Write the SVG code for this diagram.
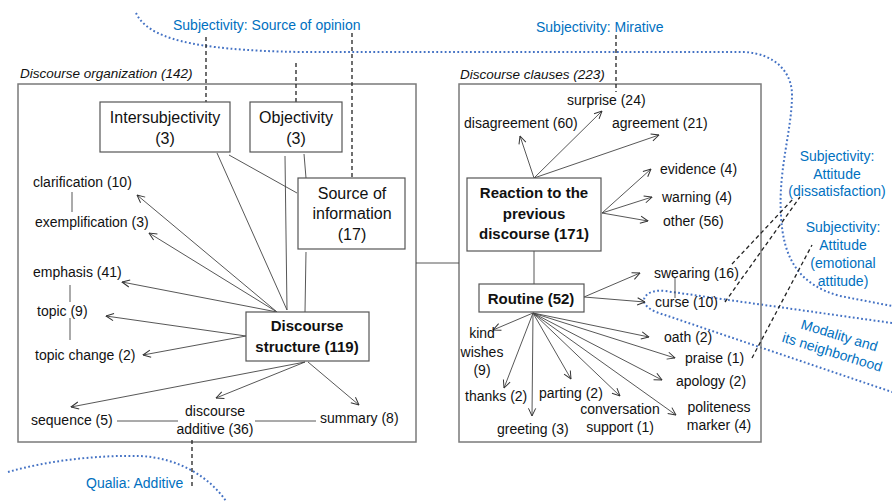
<svg xmlns="http://www.w3.org/2000/svg" width="892" height="501" viewBox="0 0 892 501">
<defs>
<marker id="arr" viewBox="0 0 10 10" refX="9.5" refY="5" markerWidth="9" markerHeight="9" markerUnits="userSpaceOnUse" orient="auto"><path d="M1,1 L9.5,5 L1,9" fill="none" stroke="#333" stroke-width="1.1"/></marker>
<style>
text{font-family:"Liberation Sans",Arial,sans-serif;fill:#111}
.s{font-size:14px}
.b{font-size:16px}
.bb{font-size:15px;font-weight:bold}
.it{font-size:13.5px;font-style:italic}
.bl{font-size:14px;fill:#0070C0}
.m{text-anchor:middle}
.cont{fill:none;stroke:#7a7a7a;stroke-width:1.5}
.box{fill:#fff;stroke:#555;stroke-width:1.2}
.ln{fill:none;stroke:#444;stroke-width:0.9}
.ar{fill:none;stroke:#444;stroke-width:0.9;marker-end:url(#arr)}
.dash{fill:none;stroke:#222;stroke-width:1.3;stroke-dasharray:4 3}
.dot{fill:none;stroke:#4472C4;stroke-width:2;stroke-dasharray:1.8 2.4}
</style>
</defs>
<rect width="892" height="501" fill="#fff"/>

<g id="regions">
<path class="dot" d="M136,13 C148,38 190,50 300,52 L745,52 C775,54 792,72 792,95 C792,130 778,170 781,215 C783,260 800,285 840,296 L892,306"/>
<path class="dot" d="M892,323 L665,291 C648,289 641,298 645,304 C649,310 658,313 665,315 L892,392"/>
<path class="dot" d="M8,472 C50,460 100,455 140,456 C180,458 210,478 226,501"/>
</g>

<g id="containers">
<g id="discourse-organization">
<rect class="cont" x="18" y="84" width="398" height="358"/>
<text class="it" x="20" y="78">Discourse organization (142)</text>
</g>
<g id="discourse-clauses">
<rect class="cont" x="459" y="84" width="302" height="358"/>
<text class="it" x="460" y="79">Discourse clauses (223)</text>
</g>
</g>

<g id="connectors">
<line class="ln" x1="416" y1="263" x2="459" y2="263"/>
<!-- left box structural lines -->
<line class="ln" x1="217" y1="153" x2="287" y2="310"/>
<line class="ln" x1="285" y1="156" x2="287" y2="310"/>
<line class="ln" x1="229" y1="155" x2="297" y2="193"/>
<line class="ln" x1="304" y1="154" x2="306" y2="178"/>
<line class="ln" x1="306" y1="252" x2="305" y2="312"/>
<line class="ln" x1="72" y1="192" x2="72" y2="212"/>
<line class="ln" x1="70" y1="285" x2="70" y2="302"/>
<line class="ln" x1="70" y1="318" x2="70" y2="340"/>
<line class="ln" x1="117" y1="421" x2="178" y2="421"/>
<line class="ln" x1="255" y1="421" x2="316" y2="421"/>
<!-- discourse structure arrows -->
<line class="ar" x1="277" y1="312" x2="137" y2="195"/>
<line class="ar" x1="277" y1="312" x2="149" y2="233"/>
<line class="ar" x1="277" y1="312" x2="122" y2="282"/>
<line class="ar" x1="246" y1="336" x2="106" y2="316"/>
<line class="ar" x1="246" y1="336" x2="143" y2="355"/>
<line class="ar" x1="305" y1="362" x2="71" y2="407"/>
<line class="ar" x1="305" y1="362" x2="216" y2="398"/>
<line class="ar" x1="308" y1="362" x2="359" y2="405"/>
<!-- right box -->
<line class="ln" x1="534" y1="251" x2="534" y2="284"/>
<line class="ar" x1="534" y1="178" x2="520" y2="136"/>
<line class="ar" x1="534" y1="178" x2="602" y2="111"/>
<line class="ar" x1="534" y1="178" x2="659" y2="135"/>
<line class="ar" x1="602" y1="213" x2="651" y2="169"/>
<line class="ar" x1="602" y1="213" x2="652" y2="197"/>
<line class="ar" x1="602" y1="213" x2="648" y2="221"/>
<line class="ar" x1="584" y1="297" x2="640" y2="273"/>
<line class="ar" x1="584" y1="297" x2="645" y2="302"/>
<line class="ln" x1="675" y1="277" x2="675" y2="298"/>
<line class="ar" x1="533" y1="313" x2="493" y2="330"/>
<line class="ar" x1="533" y1="313" x2="504" y2="388"/>
<line class="ar" x1="533" y1="313" x2="532" y2="416"/>
<line class="ar" x1="533" y1="313" x2="571" y2="379"/>
<line class="ar" x1="533" y1="313" x2="620" y2="396"/>
<line class="ar" x1="533" y1="313" x2="676" y2="415"/>
<line class="ar" x1="533" y1="313" x2="662" y2="380"/>
<line class="ar" x1="533" y1="313" x2="675" y2="358"/>
<line class="ar" x1="533" y1="313" x2="649" y2="337"/>
<!-- dashed links to semantic labels -->
<line class="dash" x1="206" y1="37" x2="206" y2="102"/>
<line class="dash" x1="296" y1="63" x2="296" y2="102"/>
<line class="dash" x1="352" y1="33" x2="352" y2="178"/>
<line class="dash" x1="616" y1="35" x2="616" y2="92"/>
<line class="dash" x1="732" y1="264" x2="793" y2="199"/>
<line class="dash" x1="725" y1="302" x2="800" y2="197"/>
<line class="dash" x1="752" y1="358" x2="812" y2="245"/>
<line class="dash" x1="192" y1="440" x2="192" y2="486"/>
</g>

<g id="intersubjectivity">
<rect class="box" x="100" y="102" width="130" height="50"/>
<text class="b m" x="165" y="123">Intersubjectivity</text>
<text class="b m" x="165" y="144">(3)</text>
</g>
<g id="objectivity">
<rect class="box" x="250" y="102" width="92" height="50"/>
<text class="b m" x="296" y="123">Objectivity</text>
<text class="b m" x="296" y="144">(3)</text>
</g>
<g id="source-of-information">
<rect class="box" x="298" y="178" width="107" height="71"/>
<text class="b m" x="352" y="199">Source of</text>
<text class="b m" x="352" y="219">information</text>
<text class="b m" x="352" y="240">(17)</text>
</g>
<g id="discourse-structure">
<rect class="box" x="246" y="312" width="123" height="49"/>
<text class="bb m" x="307" y="331">Discourse</text>
<text class="bb m" x="307" y="352">structure (119)</text>
</g>
<g id="clarification"><text class="s" x="33" y="187">clarification (10)</text></g>
<g id="exemplification"><text class="s" x="35" y="227">exemplification (3)</text></g>
<g id="emphasis"><text class="s" x="33" y="277">emphasis (41)</text></g>
<g id="topic"><text class="s" x="37" y="316">topic (9)</text></g>
<g id="topic-change"><text class="s" x="35" y="360">topic change (2)</text></g>
<g id="sequence"><text class="s" x="31" y="425">sequence (5)</text></g>
<g id="discourse-additive"><text class="s m" x="215" y="416">discourse</text><text class="s m" x="215" y="434">additive (36)</text></g>
<g id="summary"><text class="s" x="320" y="423">summary (8)</text></g>

<g id="reaction">
<rect class="box" x="467" y="178" width="134" height="73"/>
<text class="bb m" x="534" y="198">Reaction to the</text>
<text class="bb m" x="534" y="219">previous</text>
<text class="bb m" x="534" y="239">discourse (171)</text>
</g>
<g id="routine">
<rect class="box" x="479" y="284" width="105" height="28"/>
<text class="bb m" x="531" y="304">Routine (52)</text>
</g>
<g id="surprise"><text class="s" x="567" y="105">surprise (24)</text></g>
<g id="disagreement"><text class="s" x="464" y="128">disagreement (60)</text></g>
<g id="agreement"><text class="s" x="612" y="128">agreement (21)</text></g>
<g id="evidence"><text class="s" x="660" y="174">evidence (4)</text></g>
<g id="warning"><text class="s" x="662" y="202">warning (4)</text></g>
<g id="other"><text class="s" x="663" y="226">other (56)</text></g>
<g id="swearing"><text class="s" x="654" y="278">swearing (16)</text></g>
<g id="curse"><text class="s" x="655" y="307">curse (10)</text></g>
<g id="oath"><text class="s" x="664" y="342">oath (2)</text></g>
<g id="praise"><text class="s" x="685" y="363">praise (1)</text></g>
<g id="apology"><text class="s" x="676" y="386">apology (2)</text></g>
<g id="politeness-marker"><text class="s m" x="719" y="412">politeness</text><text class="s m" x="719" y="430">marker (4)</text></g>
<g id="kind-wishes"><text class="s m" x="482" y="338">kind</text><text class="s m" x="482" y="357">wishes</text><text class="s m" x="482" y="375">(9)</text></g>
<g id="thanks"><text class="s" x="465" y="401">thanks (2)</text></g>
<g id="greeting"><text class="s" x="497" y="434">greeting (3)</text></g>
<g id="parting"><text class="s" x="539" y="398">parting (2)</text></g>
<g id="conversation-support"><text class="s m" x="620" y="414">conversation</text><text class="s m" x="620" y="432">support (1)</text></g>

<g id="label-source-of-opinion"><text class="bl" x="173" y="30">Subjectivity: Source of opinion</text></g>
<g id="label-mirative"><text class="bl" x="536" y="32">Subjectivity: Mirative</text></g>
<g id="label-dissatisfaction"><text class="bl m" x="837" y="161">Subjectivity:</text><text class="bl m" x="837" y="179">Attitude</text><text class="bl m" x="837" y="196">(dissatisfaction)</text></g>
<g id="label-emotional"><text class="bl m" x="843" y="232">Subjectivity:</text><text class="bl m" x="843" y="250">Attitude</text><text class="bl m" x="843" y="268">(emotional</text><text class="bl m" x="843" y="286">attitude)</text></g>
<g id="label-modality" transform="translate(838,340) rotate(17)"><text class="bl m" x="0" y="0">Modality and</text><text class="bl m" x="-2" y="18">its neighborhood</text></g>
<g id="label-qualia"><text class="bl" x="86" y="488">Qualia: Additive</text></g>
</svg>
